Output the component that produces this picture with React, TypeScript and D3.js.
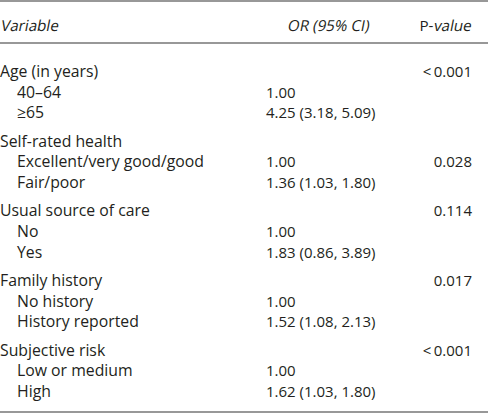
import React from "react";
import * as d3 from "d3";

const headers = ["Variable", "OR (95% CI)", "P-", "value"];
const groups = ["Age (in years)", "Self-rated health", "Usual source of care", "Family history", "Subjective risk"];
const levels = [
  ["40–64", "≥65"],
  ["Excellent/very good/good", "Fair/poor"],
  ["No", "Yes"],
  ["No history", "History reported"],
  ["Low or medium", "High"],
];
const orValues = [
  ["1.00", "4.25 (3.18, 5.09)"],
  ["1.00", "1.36 (1.03, 1.80)"],
  ["1.00", "1.83 (0.86, 3.89)"],
  ["1.00", "1.52 (1.08, 2.13)"],
  ["1.00", "1.62 (1.03, 1.80)"],
];
const pValues = ["<0.001", "0.028", "0.114", "0.017", "<0.001"];
// row within group where the p-value is printed (0 = group header, 1 = first level)
const pRow = [0, 1, 0, 0, 0];

const W = 488;
const H = 413;
const FONT = "'Open Sans', Lato, sans-serif";
const COLOR = "#231f20";
const LABEL_SIZE = 15.8;
const NUM_SIZE = 15;

function PText({ v }: { v: string }) {
  if (v.startsWith("<")) {
    return (
      <>
        {"<"}
        <tspan dx={2.5}>{v.slice(1)}</tspan>
      </>
    );
  }
  return <>{v}</>;
}

function Oblique({ x, y, anchor, children }: { x: number; y: number; anchor?: string; children: React.ReactNode }) {
  return (
    <text
      transform={`translate(${x},${y}) skewX(-11)`}
      dominantBaseline="central"
      textAnchor={anchor || "start"}
      fontSize={15.2}
    >
      {children}
    </text>
  );
}

export default function App() {
  const groupStep = 3.4;
  const y = d3.scaleLinear().domain([0, 4 * groupStep + 2]).range([71, 391]);
  const x = d3
    .scaleOrdinal<string, number>()
    .domain(["var", "indent", "or", "orHead", "p"])
    .range([0, 17, 266, 370, 472]);

  const rowY = (g: number, r: number) => y(g * groupStep + r);
  const headY = 25;

  return (
    <svg
      width={W}
      height={H}
      style={{ position: "absolute", left: 0, top: 0, background: "#fff" }}
      fontFamily={FONT}
      fontSize={LABEL_SIZE}
      fill={COLOR}
    >
      <line x1={0} x2={W} y1={1} y2={1} stroke="#333" strokeWidth={1.2} />
      <line x1={0} x2={W} y1={43} y2={43} stroke="#333" strokeWidth={1.2} />
      <line x1={0} x2={W} y1={412} y2={412} stroke="#333" strokeWidth={1.2} />
      <Oblique x={x("var") + 1.5} y={headY}>{headers[0]}</Oblique>
      <Oblique x={x("orHead")} y={headY} anchor="end">{headers[1]}</Oblique>
      <Oblique x={x("p")} y={headY} anchor="end">{headers[3]}</Oblique>
      <text x={x("p") - 38.5} y={headY} dominantBaseline="central" textAnchor="end" fontSize={15.2}>
        {headers[2]}
      </text>
      {groups.map((g, gi) => (
        <g key={g}>
          <text x={x("var")} y={rowY(gi, 0)} dominantBaseline="central">{g}</text>
          {levels[gi].map((lv, li) => (
            <g key={lv}>
              <text x={x("indent")} y={rowY(gi, li + 1)} dominantBaseline="central">{lv}</text>
              <text x={x("or")} y={rowY(gi, li + 1)} dominantBaseline="central" fontSize={NUM_SIZE}>
                {orValues[gi][li]}
              </text>
            </g>
          ))}
          <text x={x("p")} y={rowY(gi, pRow[gi])} dominantBaseline="central" textAnchor="end" fontSize={NUM_SIZE}>
            <PText v={pValues[gi]} />
          </text>
        </g>
      ))}
    </svg>
  );
}
